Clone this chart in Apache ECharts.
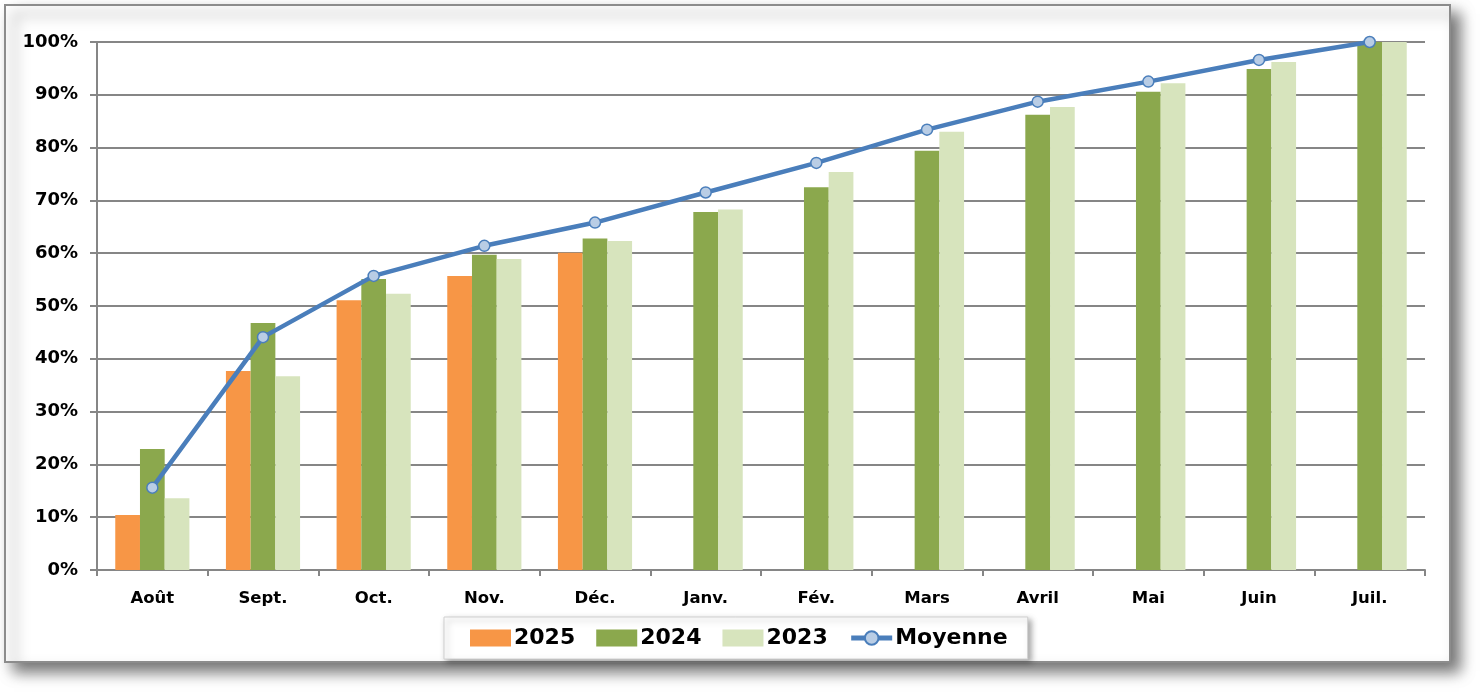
<!DOCTYPE html>
<html><head><meta charset="utf-8">
<script src="https://cdn.jsdelivr.net/npm/echarts@6/dist/echarts.min.js"></script>
<style>html,body{margin:0;padding:0;background:#fff}#c{width:1483px;height:698px}</style>
</head><body><div id="c"></div>
<script>
const categories = ['Août','Sept.','Oct.','Nov.','Déc.','Janv.','Fév.','Mars','Avril','Mai','Juin','Juil.'];
const s2025 = [10.4, 37.7, 51.1, 55.7, 60.1, null, null, null, null, null, null, null];
const s2024 = [22.9, 46.8, 55.1, 59.7, 62.8, 67.8, 72.5, 79.4, 86.2, 90.6, 94.9, 100];
const s2023 = [13.6, 36.7, 52.3, 58.9, 62.3, 68.3, 75.4, 83.0, 87.7, 92.2, 96.2, 100];
const moyenne = [15.6, 44.1, 55.7, 61.4, 65.8, 71.5, 77.1, 83.4, 88.7, 92.5, 96.6, 100];
const yTicks = [0, 10, 20, 30, 40, 50, 60, 70, 80, 90, 100];

const FONT = '"DejaVu Sans", sans-serif';
const chart = echarts.init(document.getElementById('c'), null, {renderer: 'canvas'});
chart.setOption({
  animation: false,
  backgroundColor: '#fff',
  textStyle: {fontFamily: FONT},
  graphic: [{
    type: 'rect', z: -100, silent: true,
    shape: {x: 5, y: 5, width: 1445, height: 657},
    style: {fill: '#fff', stroke: '#8c8c8c', lineWidth: 2,
      shadowBlur: 14, shadowOffsetX: 9, shadowOffsetY: 9, shadowColor: 'rgba(0,0,0,0.55)'}
  }],
  grid: {left: 97, right: 58, top: 42, bottom: 128, containLabel: false},
  legend: {
    top: 617, left: 444,
    itemWidth: 41, itemHeight: 17, itemGap: 21,
    padding: [10, 20, 10, 26],
    backgroundColor: '#fff', borderColor: '#d0d0d0', borderWidth: 1,
    shadowBlur: 6, shadowOffsetX: 3, shadowOffsetY: 3, shadowColor: 'rgba(0,0,0,0.35)',
    textStyle: {fontFamily: FONT, fontSize: 22, fontWeight: 'bold', color: '#000', padding: [0,0,0,-2]},
    data: [
      {name: '2025', icon: 'rect'},
      {name: '2024', icon: 'rect'},
      {name: '2023', icon: 'rect'},
      {name: 'Moyenne', lineStyle: {width: 5}}
    ]
  },
  xAxis: {
    type: 'category', data: categories,
    axisLine: {show: true, lineStyle: {color: '#868686', width: 2}},
    axisTick: {show: true, alignWithLabel: false, length: 6, lineStyle: {color: '#868686', width: 2}},
    axisLabel: {color: '#000', fontSize: 16.5, fontWeight: 'bold', margin: 20, fontFamily: FONT}
  },
  yAxis: {
    type: 'value', min: 0, max: 100, interval: 10,
    axisLine: {show: true, lineStyle: {color: '#868686', width: 2}},
    axisTick: {show: true, length: 7, lineStyle: {color: '#868686', width: 2}},
    splitLine: {show: true, lineStyle: {color: '#868686', width: 2}},
    axisLabel: {color: '#000', fontSize: 18, fontWeight: 'bold', margin: 19, fontFamily: FONT,
      formatter: v => yTicks.includes(v) ? v + '%' : ''}
  },
  series: [
    {name: '2025', type: 'bar', data: s2025, barGap: '0%', barCategoryGap: '33%',
      itemStyle: {color: '#F79646'}},
    {name: '2024', type: 'bar', data: s2024, barGap: '0%', barCategoryGap: '33%',
      itemStyle: {color: '#8BA84D'}},
    {name: '2023', type: 'bar', data: s2023, barGap: '0%', barCategoryGap: '33%',
      itemStyle: {color: '#D7E4BD'}},
    {name: 'Moyenne', type: 'line', data: moyenne, z: 5,
      symbol: 'circle', symbolSize: 11,
      lineStyle: {color: '#4A7EBB', width: 4.5},
      itemStyle: {color: '#B9CDE5', borderColor: '#4A7EBB', borderWidth: 1.5}}
  ]
});
</script></body></html>
